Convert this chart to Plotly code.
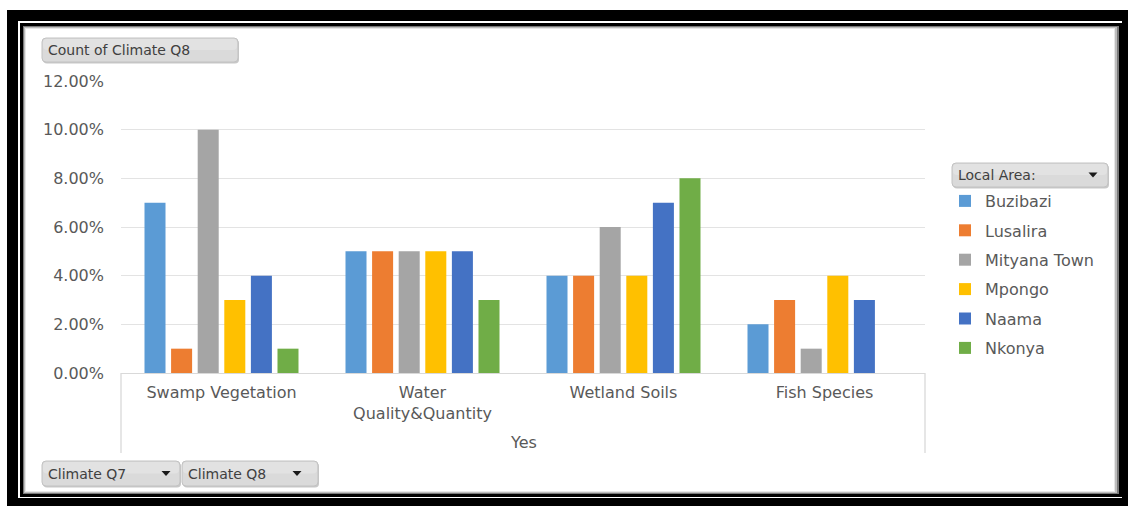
import plotly.graph_objects as go

# ---------------- data ----------------
categories = ["Swamp Vegetation", "Water Quality&Quantity", "Wetland Soils", "Fish Species"]
tick_labels = ["Swamp Vegetation", "Water<br>Quality&Quantity", "Wetland Soils", "Fish Species"]
areas = ["Buzibazi", "Lusalira", "Mityana Town", "Mpongo", "Naama", "Nkonya"]
buzibazi = [0.07, 0.05, 0.04, 0.02]
lusalira = [0.01, 0.05, 0.04, 0.03]
mityana_town = [0.10, 0.05, 0.06, 0.01]
mpongo = [0.03, 0.05, 0.04, 0.04]
naama = [0.04, 0.05, 0.07, 0.03]
nkonya = [0.01, 0.03, 0.08, None]
series = [buzibazi, lusalira, mityana_town, mpongo, naama, nkonya]
colors = ["#5B9BD5", "#ED7D31", "#A5A5A5", "#FFC000", "#4472C4", "#70AD47"]
y_ticks = [0, 0.02, 0.04, 0.06, 0.08, 0.10, 0.12]

# ---------------- geometry ----------------
W, H = 1128, 506
L, R, T, B = 121, 925, 81, 373
PW, PH = R - L, B - T
FONT = "DejaVu Sans"
TXT = "#595959"


def px(x):
    return (x - L) / PW


def py(y):
    return (B - y) / PH


def rrect(x0, y0, x1, y1, r=4):
    rx, ry = r / PW, r / PH
    X0, X1 = px(x0), px(x1)
    Y0, Y1 = py(y0), py(y1)  # Y0 top (larger), Y1 bottom
    return (f"M{X0+rx},{Y0} L{X1-rx},{Y0} Q{X1},{Y0} {X1},{Y0-ry} "
            f"L{X1},{Y1+ry} Q{X1},{Y1} {X1-rx},{Y1} L{X0+rx},{Y1} "
            f"Q{X0},{Y1} {X0},{Y1+ry} L{X0},{Y0-ry} Q{X0},{Y0} {X0+rx},{Y0} Z")


def tri(cx, cy, w=9, h=5):
    return (f"M{px(cx-w/2)},{py(cy-h/2)} L{px(cx+w/2)},{py(cy-h/2)} "
            f"L{px(cx)},{py(cy+h/2)} Z")


fig = go.Figure()
for name, vals, col in zip(areas, series, colors):
    fig.add_trace(go.Bar(
        x=categories, y=vals, name=name, marker_color=col,
        marker_line_width=0, legendgroup=name,
        hovertemplate="%{x}<br>" + name + ": %{y:.2%}<extra></extra>"))

shapes = []


def rect(x0, y0, x1, y1, fill, line=None, lw=0, layer="below"):
    shapes.append(dict(type="rect", xref="paper", yref="paper",
                       x0=px(x0), x1=px(x1), y0=py(y1), y1=py(y0),
                       fillcolor=fill, line=dict(color=line or fill, width=lw),
                       layer=layer))


# outer frame
rect(7, 10, 1128, 506, "#000000")
rect(18, 21, 1122, 498, "#ffffff")
rect(20, 23, 1122, 497, "#000000")
rect(23, 26, 1119, 494, "#7a7a7a")
rect(24, 27, 1117, 493, "#bdbdbd")
rect(25, 28, 1115, 492, "#e6e6e6")
rect(26, 29, 1114, 491, "#ffffff")

# category dividers
line_col = "#D9D9D9"
for xv in (L, R):
    shapes.append(dict(type="line", xref="paper", yref="paper",
                       x0=px(xv), x1=px(xv), y0=py(373), y1=py(453),
                       line=dict(color=line_col, width=1.3), layer="below"))

# buttons
buttons = [
    (42, 38, 238, 62, "Count of Climate Q8", None),
    (952, 163, 1108, 187, "Local Area:", 1093),
    (42, 461, 180, 486, "Climate Q7", 166),
    (182, 461, 318, 486, "Climate Q8", 297),
]
annotations = []
for x0, y0, x1, y1, label, trix in buttons:
    shapes.append(dict(type="path", xref="paper", yref="paper",
                       path=rrect(x0 + 1, y0 + 1.5, x1 + 1, y1 + 1.5),
                       fillcolor="#c8c8c8", line=dict(width=0), layer="below"))
    shapes.append(dict(type="path", xref="paper", yref="paper",
                       path=rrect(x0, y0, x1, y1),
                       fillcolor="#dadada", line=dict(color="#c2c2c2", width=1),
                       layer="below"))
    shapes.append(dict(type="path", xref="paper", yref="paper",
                       path=rrect(x0 + 1, y0 + 1, x1 - 1, (y0 + y1) / 2),
                       fillcolor="#e2e2e2", line=dict(width=0), layer="below"))
    if trix is not None:
        shapes.append(dict(type="path", xref="paper", yref="paper",
                           path=tri(trix, (y0 + y1) / 2),
                           fillcolor="#1a1a1a", line=dict(width=0), layer="above"))
    annotations.append(dict(text=label, xref="paper", yref="paper",
                            x=px(x0 + 4), y=py((y0 + y1) / 2), xanchor="left",
                            yanchor="middle", showarrow=False,
                            font=dict(family=FONT, size=14, color="#404040")))

annotations.append(dict(text="Yes", xref="paper", yref="paper", x=0.5, y=py(442),
                        xanchor="center", yanchor="middle", showarrow=False,
                        font=dict(family=FONT, size=16, color=TXT)))

fig.update_layout(
    width=W, height=H, autosize=False,
    margin=dict(l=L, r=W - R, t=T, b=H - B, pad=0),
    paper_bgcolor="#ffffff", plot_bgcolor="#ffffff",
    barmode="group", bargap=0.206, bargroupgap=0.21,
    shapes=shapes, annotations=annotations,
    showlegend=True,
    legend=dict(x=px(945), y=py(184), xanchor="left", yanchor="top",
                font=dict(family=FONT, size=16, color=TXT),
                traceorder="grouped", tracegroupgap=5.6,
                bgcolor="rgba(0,0,0,0)", itemclick=False),
    font=dict(family=FONT, color=TXT),
)
fig.update_yaxes(range=[0, 0.12], tickvals=y_ticks, tickformat=".2%",
                 showgrid=True, gridcolor="#E3E3E3", gridwidth=1,
                 zeroline=False, showline=False, ticks="",
                 ticklabelstandoff=16,
                 tickfont=dict(family=FONT, size=16, color=TXT))
fig.update_xaxes(tickvals=categories, ticktext=tick_labels,
                 showline=True, linecolor=line_col, linewidth=1.3,
                 ticks="", showgrid=False, ticklabelstandoff=5,
                 tickfont=dict(family=FONT, size=16, color=TXT))

fig.write_html("out.html")
